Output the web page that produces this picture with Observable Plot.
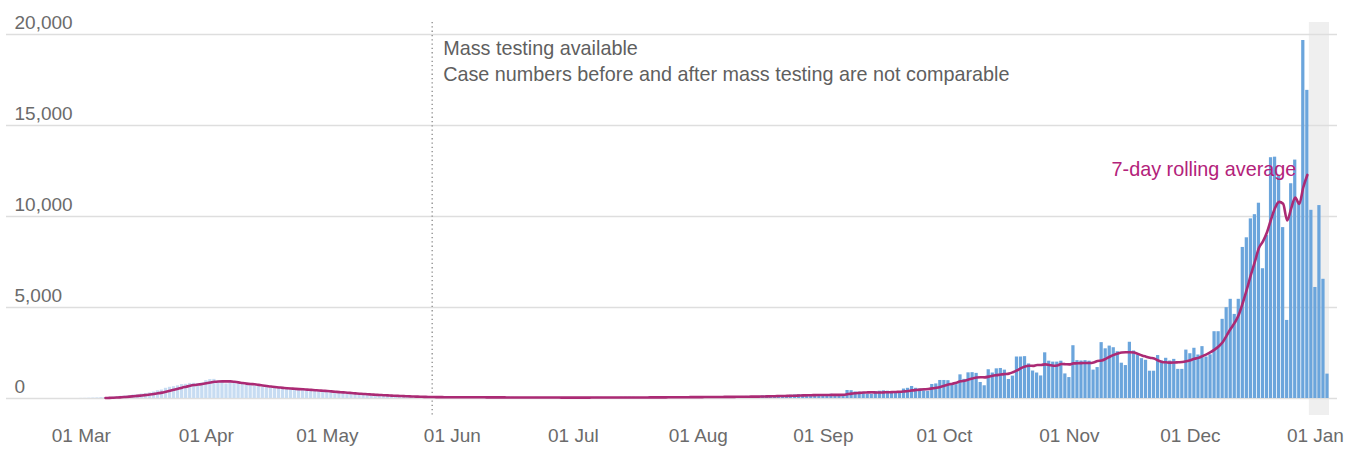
<!DOCTYPE html>
<html>
<head>
<meta charset="utf-8">
<script src="https://cdn.jsdelivr.net/npm/d3@7"></script>
<script src="https://cdn.jsdelivr.net/npm/@observablehq/plot@0.6"></script>
<style>
  html, body { margin: 0; padding: 0; background: #fff; }
</style>
</head>
<body>
<div id="chart"></div>
<script>
// ---- data (daily cases, one value per day starting at firstDay) ----
const firstDay = "2020-03-01";
const casesMar = [5, 8, 15, 22, 28, 40, 52, 60, 82, 98, 125, 140, 158, 192, 205, 245, 268, 305, 355, 425, 465, 560, 615, 650, 695, 765, 780, 830, 835, 820, 860];
const casesApr = [980, 1040, 1050, 960, 880, 800, 860, 840, 820, 780, 740, 720, 690, 660, 620, 600, 560, 560, 560, 540, 520, 500, 480, 460, 470, 450, 420, 400, 390, 370];
const casesMay = [360, 340, 310, 290, 280, 270, 250, 230, 220, 200, 190, 180, 170, 160, 150, 140, 130, 120, 110, 100, 95, 90, 85, 80, 75, 70, 70, 70, 75, 65, 60];
const casesJun = [80, 76, 72, 70, 66, 55, 52, 70, 68, 65, 62, 58, 48, 45, 62, 60, 58, 56, 52, 44, 42, 58, 56, 55, 54, 50, 42, 40, 56, 55];
const casesJul = [54, 54, 50, 44, 42, 58, 60, 58, 56, 52, 45, 44, 62, 64, 64, 62, 58, 50, 48, 70, 72, 74, 72, 66, 56, 54, 80, 84, 86, 86, 80];
const casesAug = [66, 64, 92, 95, 96, 98, 92, 78, 76, 105, 110, 112, 115, 108, 90, 88, 140, 150, 155, 160, 150, 125, 120, 180, 195, 205, 210, 195, 165, 160, 200];
const casesSep = [210, 220, 230, 200, 180, 190, 440, 430, 360, 350, 340, 230, 240, 380, 400, 420, 400, 380, 300, 290, 520, 560, 660, 560, 520, 420, 400, 770, 800, 990];
const casesOct = [990, 980, 780, 760, 1300, 1050, 1410, 1420, 1380, 880, 700, 1580, 1400, 1630, 1650, 1560, 1045, 1230, 2280, 2280, 2300, 1900, 1510, 1400, 1240, 2510, 2050, 2000, 2000, 2050, 1350];
const casesNov = [1150, 2900, 2080, 2060, 2080, 2050, 1560, 1700, 3070, 2730, 2880, 2790, 2570, 1940, 1810, 3090, 2610, 2360, 2190, 2100, 1500, 1500, 2360, 2060, 2210, 2060, 2150, 1600, 1600, 2660];
const casesDec = [2460, 2760, 2390, 2850, 2280, 2400, 3670, 3670, 4350, 4990, 5450, 4620, 5450, 8300, 8830, 9870, 10100, 10730, 7130, 8960, 13230, 13260, 12200, 9390, 4290, 11800, 13100, 10800, 19670, 16930, 10340];
const casesJan = [6100, 10600, 6550, 1340];

const massTestingDate = "2020-05-27";   // dotted line / colour change
const incompleteFrom = "2020-12-31";    // grey band: incomplete recent days
const yTicks = [0, 5000, 10000, 15000, 20000];
const xTicks = ["2020-03-01", "2020-04-01", "2020-05-01", "2020-06-01", "2020-07-01", "2020-08-01",
                "2020-09-01", "2020-10-01", "2020-11-01", "2020-12-01", "2021-01-01"];
const annotationLines = ["Mass testing available", "Case numbers before and after mass testing are not comparable"];
const avgLabel = "7-day rolling average";

// ---- build table ----
const DAY = 864e5;
const t0 = Date.parse(firstDay);
const allCases = [].concat(casesMar, casesApr, casesMay, casesJun, casesJul, casesAug,
                           casesSep, casesOct, casesNov, casesDec, casesJan);
const massDate = new Date(massTestingDate);
const incompleteDate = new Date(incompleteFrom);
const rows = allCases.map((v, i) => {
  const date = new Date(t0 + i * DAY);
  return {
    date,
    x1: new Date(+date - DAY / 2),
    x2: new Date(+date + DAY / 2),
    value: v,
    before: date < massDate
  };
});
const complete = rows.filter(r => r.date < incompleteDate);
const lastComplete = complete[complete.length - 1];
const lastAvg = {date: lastComplete.date, avg: d3.mean(complete.slice(-7), d => d.value)};
const band = [{x1: new Date(+incompleteDate - DAY / 2), x2: rows[rows.length - 1].x2}];

// ---- layout ----
const W = 1350, H = 450, mL = 6, mR = 13, mT = 22, mB = 35;
const pxPerDay = 4.033, tickPx0 = 80.8;
const xDomain = [new Date(t0 - (tickPx0 - mL) / pxPerDay * DAY), new Date(t0 + (W - mR - tickPx0) / pxPerDay * DAY)];
const y0px = 398, y20px = 34, pxPerUnit = (y0px - y20px) / 20000;
const yDomain = [-(H - mB - y0px) / pxPerUnit, 20000 + (y20px - mT) / pxPerUnit];

const textGrey = "#6b6b6b";
const magenta = "#ab2a74";

const chart = Plot.plot({
  width: W, height: H,
  marginLeft: mL, marginRight: mR, marginTop: mT, marginBottom: mB,
  style: {fontFamily: "'Liberation Sans', Arial, sans-serif", background: "#fff"},
  x: {type: "utc", domain: xDomain, label: null},
  y: {domain: yDomain, axis: null},
  marks: [
    Plot.rect(band, {x1: "x1", x2: "x2", fill: "#efefef"}),
    Plot.ruleY(yTicks, {stroke: "#dedede", strokeWidth: 1.5}),
    Plot.rectY(rows, {
      x1: "x1", x2: "x2", y: "value",
      fill: d => d.before ? "#c7dcf2" : "#6ba5dc",
      insetLeft: 0.4, insetRight: 0.4
    }),
    Plot.ruleX([massDate], {stroke: "#888", strokeWidth: 1.3, strokeDasharray: "1.3,3"}),
    Plot.lineY(complete, Plot.windowY({k: 7, anchor: "end", strict: true}, {
      x: "date", y: "value", stroke: magenta, strokeWidth: 2.6, curve: "monotone-x"
    })),
    Plot.text(yTicks, {
      y: d => d, text: d => d3.format(",")(d),
      frameAnchor: "left", textAnchor: "start", lineAnchor: "bottom",
      dx: 8, dy: -6, fill: textGrey, fontSize: 19
    }),
    Plot.text([annotationLines.join("\n")], {
      x: () => massDate, text: d => d, frameAnchor: "top",
      textAnchor: "start", lineAnchor: "top", lineHeight: 1.3,
      dx: 11, dy: 14, fill: "#5f5f5f", fontSize: 19.8
    }),
    Plot.text([lastAvg], {
      x: "date", y: "avg", text: () => avgLabel,
      textAnchor: "end", lineAnchor: "bottom", dx: -11, dy: 1,
      fill: "#b3227a", fontSize: 19.8
    }),
    Plot.axisX({
      ticks: xTicks.map(s => new Date(s)),
      tickFormat: d3.utcFormat("%d %b"),
      tickSize: 0, tickPadding: 13, fontSize: 19,
      color: textGrey, fill: textGrey, label: null
    })
  ]
});
document.getElementById("chart").appendChild(chart);
</script>
</body>
</html>
